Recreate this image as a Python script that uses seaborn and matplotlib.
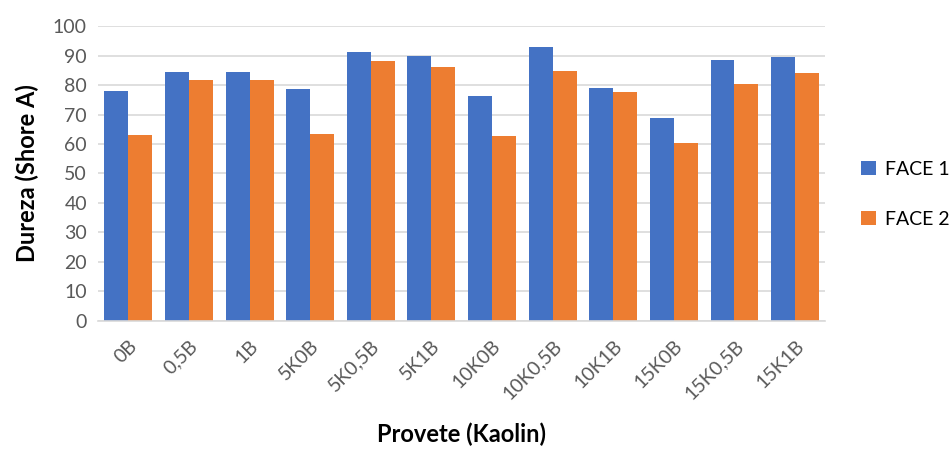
import pandas as pd
import matplotlib.pyplot as plt
import seaborn as sns

# Data
provetes = ['0B', '0,5B', '1B', '5K0B', '5K0,5B', '5K1B',
            '10K0B', '10K0,5B', '10K1B', '15K0B', '15K0,5B', '15K1B']
face1 = [77.9, 84.4, 84.4, 78.8, 91.3, 89.7, 76.2, 93.0, 79.0, 68.8, 88.6, 89.5]
face2 = [63.1, 81.6, 81.7, 63.5, 88.1, 86.1, 62.6, 84.8, 77.7, 60.5, 80.5, 84.1]

df = pd.DataFrame({'Provete': provetes * 2,
                   'Dureza': face1 + face2,
                   'Face': ['FACE 1'] * len(provetes) + ['FACE 2'] * len(provetes)})

sns.set_style('white')
plt.rcParams['font.family'] = ['Lato', 'DejaVu Sans']

fig = plt.figure(figsize=(9.52, 4.5), dpi=100)
ax = fig.add_axes([0.103, 0.287, 0.764, 0.655])

sns.barplot(data=df, x='Provete', y='Dureza', hue='Face', order=provetes,
            palette=['#4472C4', '#ED7D31'], width=0.79, saturation=1,
            edgecolor='none', ax=ax)

ax.set_ylim(0, 100)
ax.set_yticks(range(0, 101, 10))
ax.set_xlim(-0.5, len(provetes) - 0.5)
ax.grid(axis='y', color='#D9D9D9', linewidth=1.2)
ax.set_axisbelow(True)
for s in ['top', 'right', 'left']:
    ax.spines[s].set_visible(False)
ax.spines['bottom'].set_color('#D9D9D9')
ax.spines['bottom'].set_linewidth(1.2)
ax.tick_params(axis='both', length=0, labelsize=14, colors='#595959')
ax.tick_params(axis='y', pad=8)
ax.tick_params(axis='x', pad=12)
plt.setp(ax.get_xticklabels(), rotation=45, ha='right', rotation_mode='anchor')

ax.set_ylabel('Dureza (Shore A)', fontsize=17, fontweight='bold', color='black', labelpad=10)
ax.set_xlabel('Provete (Kaolin)', fontsize=17, fontweight='bold', color='black', labelpad=14)

ax.legend(title=None, loc='center left', bbox_to_anchor=(1.025, 0.43), frameon=False,
          fontsize=14, labelspacing=1.7, handlelength=0.75, handleheight=0.75,
          handletextpad=0.5, labelcolor='black')

fig.savefig('out.png', dpi=100)
